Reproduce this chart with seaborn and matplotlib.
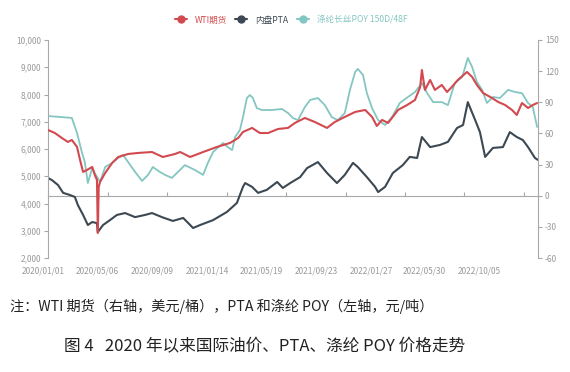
import numpy as np
import pandas as pd
import matplotlib
matplotlib.use("Agg")
import matplotlib.pyplot as plt
import matplotlib.transforms as mtransforms
from matplotlib.lines import Line2D
import seaborn as sns

sns.set_theme(style="white")
plt.rcParams['font.family'] = ['Noto Sans CJK SC', 'DejaVu Sans']

# ---- data (x = days since 2020-01-01) ----
x_labels = ["2020/01/01", "2020/05/06", "2020/09/09", "2021/01/14", "2021/05/19",
            "2021/09/23", "2022/01/27", "2022/05/30", "2022/10/05"]
left_ticks = [2000, 3000, 4000, 5000, 6000, 7000, 8000, 9000, 10000]
right_ticks = [-60, -30, 0, 30, 60, 90, 120, 150]

legend_labels = ["WTI期货", "内盘PTA", "涤纶长丝POY 150D/48F"]

wti_days = [0, 16, 32, 46, 55, 67, 74, 81, 90, 102, 108, 113, 115, 117, 120, 132, 148, 162, 185, 208,
            240, 265, 293, 305, 328, 358, 390, 420, 439, 450, 471, 489, 508, 531, 554, 570, 593, 616, 644, 662,
            685, 709, 732, 748, 759, 771, 785, 808, 829, 847, 859, 863, 870, 882, 893, 909, 921, 932, 946, 967,
            979, 990, 1004, 1025, 1039, 1055, 1071, 1082, 1094, 1108, 1119, 1129]
wti = [63.3, 60.4, 55.6, 51.8, 53.7, 47.0, 34.4, 22.9, 24.8, 27.7, 20.0, 15.2, -35.9, 8.0, 13.3, 21.9, 31.5, 37.3, 40.2, 41.2,
       42.1, 37.3, 40.2, 42.1, 37.3, 42.1, 47.0, 50.8, 55.6, 61.4, 65.3, 60.4, 60.4, 64.3, 65.3, 70.1, 74.9, 71.0, 65.3, 71.0,
       75.9, 80.7, 82.6, 75.9, 67.2, 73.0, 70.1, 82.6, 87.4, 92.2, 104.7, 121.1, 101.9, 111.5, 101.9, 106.7, 99.9, 104.7, 111.5, 119.2,
       114.4, 106.7, 99.0, 94.1, 90.3, 87.4, 82.6, 77.8, 89.3, 84.5, 87.4, 89.3]

pta_days = [0, 9, 23, 35, 51, 62, 69, 81, 92, 102, 113, 115, 127, 143, 159, 178, 201, 224, 240, 263,
            288, 312, 335, 351, 381, 413, 436, 450, 455, 471, 485, 505, 529, 542, 559, 582, 598, 623, 644, 667,
            685, 704, 715, 736, 755, 762, 778, 796, 819, 835, 852, 863, 882, 905, 923, 944, 958, 969, 986, 997,
            1009, 1027, 1050, 1066, 1082, 1096, 1108, 1124, 1131]
pta = [4935, 4860, 4680, 4390, 4310, 4240, 3940, 3580, 3210, 3320, 3280, 2950, 3210, 3390, 3580, 3650, 3500, 3580, 3650, 3500,
       3360, 3470, 3100, 3210, 3390, 3690, 4020, 4610, 4750, 4610, 4390, 4500, 4790, 4570, 4750, 4970, 5300, 5520, 5120, 4750,
       5050, 5490, 5340, 4970, 4610, 4420, 4610, 5120, 5410, 5710, 5670, 6440, 6070, 6150, 6260, 6770, 6880, 7720, 7060, 6620,
       5710, 6040, 6070, 6620, 6440, 6330, 6070, 5670, 5600]

poy_days = [0, 28, 55, 67, 78, 85, 92, 102, 108, 120, 132, 148, 162, 173, 185, 201, 217, 231, 242, 258,
            270, 286, 316, 339, 358, 369, 381, 404, 415, 425, 432, 443, 450, 459, 466, 473, 482, 494, 517, 540,
            554, 565, 577, 593, 605, 623, 639, 655, 669, 685, 697, 709, 715, 727, 736, 748, 762, 778, 794, 812,
            831, 847, 863, 875, 889, 909, 923, 939, 956, 969, 979, 990, 1002, 1013, 1027, 1043, 1062, 1078, 1094, 1108,
            1119, 1129]
poy = [7210, 7175, 7140, 6590, 5890, 5520, 4750, 5300, 5120, 4790, 5340, 5490, 5670, 5780, 5520, 5160, 4830, 5050, 5340, 5160,
       5050, 4940, 5410, 5230, 5050, 5490, 5890, 6220, 6070, 5960, 6440, 6700, 7170, 7870, 7980, 7870, 7500, 7430, 7430, 7470,
       7320, 7140, 7060, 7540, 7800, 7870, 7610, 7170, 7060, 7320, 8170, 8830, 8940, 8720, 8050, 7500, 7060, 6880, 7170, 7690,
       7910, 8090, 8420, 8050, 7720, 7720, 7610, 8420, 8640, 9340, 9010, 8460, 8170, 7690, 7910, 7870, 8170, 8090, 8050, 7690,
       7540, 6810]

# ---- styling ----
C_WTI = "#d24a4f"
C_PTA = "#3c4852"
C_POY = "#84c6c1"
C_TXT = "#9a9a9a"
C_AX = "#a8a8a8"

df_wti = pd.DataFrame({"day": wti_days, "value": wti})
df_pta = pd.DataFrame({"day": pta_days, "value": pta})
df_poy = pd.DataFrame({"day": poy_days, "value": poy})

fig = plt.figure(figsize=(5.70, 3.72), dpi=100)
ax = fig.add_axes([48 / 570, 1 - 258 / 372, (538 - 48) / 570, (258 - 40) / 372])
ax2 = ax.twinx()

sns.lineplot(data=df_poy, x="day", y="value", ax=ax, color=C_POY, linewidth=1.3, estimator=None)
sns.lineplot(data=df_pta, x="day", y="value", ax=ax, color=C_PTA, linewidth=1.5, estimator=None)
sns.lineplot(data=df_wti, x="day", y="value", ax=ax2, color=C_WTI, linewidth=1.5, estimator=None)

xmax = 1131
ax.set_xlim(0, xmax)
ax.set_ylim(2000, 10000)
ax2.set_ylim(-60, 150)

for a in (ax, ax2):
    a.set_xlabel("")
    a.set_ylabel("")
    a.grid(False)
    for s in a.spines.values():
        s.set_visible(False)

ax.spines['left'].set_visible(True)
ax.spines['left'].set_color(C_AX)
ax.spines['left'].set_linewidth(0.8)
ax2.spines['right'].set_visible(True)
ax2.spines['right'].set_color(C_AX)
ax2.spines['right'].set_linewidth(0.8)

ax.set_yticks(left_ticks)
ax.set_yticklabels([f"{v:,}" for v in left_ticks])
ax2.set_yticks(right_ticks)
ax2.set_yticklabels([str(v) for v in right_ticks])
ax.tick_params(axis='y', length=3, width=0.8, color=C_AX, labelcolor=C_TXT, labelsize=6, pad=2, left=True)
ax2.tick_params(axis='y', length=3, width=0.8, color=C_AX, labelcolor=C_TXT, labelsize=6, pad=2, right=True)

# x tick labels at the bottom
base = pd.Timestamp("2020-01-01")
label_days = [(pd.Timestamp(s.replace("/", "-")) - base).days for s in x_labels]
ax.set_xticks(label_days)
ax.set_xticklabels(x_labels)
ax.tick_params(axis='x', length=0, labelcolor=C_TXT, labelsize=6, pad=6)
offset = mtransforms.ScaledTranslation(-5 / 100, 0, fig.dpi_scale_trans)
for lbl in ax.get_xticklabels():
    lbl.set_transform(lbl.get_transform() + offset)

# zero line of the right axis with small ticks
zero_frac = (0 - (-60)) / (150 - (-60))
sec = ax.secondary_xaxis(zero_frac)
tick_step = 59.5 / 490 * xmax
sec.set_xticks(np.arange(0, xmax + 1, tick_step))
sec.set_xticklabels([])
sec.tick_params(axis='x', direction='in', length=3, width=0.8, color=C_AX)
sec.spines['bottom'].set_color(C_AX)
sec.spines['bottom'].set_linewidth(0.8)
for k in ('top', 'left', 'right'):
    if k in sec.spines:
        sec.spines[k].set_visible(False)

# legend
handles = [Line2D([0], [0], color=c, lw=1.5, marker='o', markersize=5)
           for c in (C_WTI, C_PTA, C_POY)]
leg = fig.legend(handles, legend_labels, loc='center', bbox_to_anchor=(291 / 570, 1 - 20 / 372),
                 ncol=3, frameon=False, fontsize=6.2, handlelength=1.4, handletextpad=0.9,
                 columnspacing=1.0, labelcolor=[C_WTI, C_PTA, C_POY])

# captions
fig.text(10 / 570, 1 - 306 / 372, "注：WTI 期货（右轴，美元/桶），PTA 和涤纶 POY（左轴，元/吨）",
         ha='left', va='center', fontsize=10.2, color="#222222")
fig.text(265 / 570, 1 - 347 / 372, "图 4   2020 年以来国际油价、PTA、涤纶 POY 价格走势",
         ha='center', va='center', fontsize=12, color="#222222")

fig.savefig("out.png", dpi=100)
